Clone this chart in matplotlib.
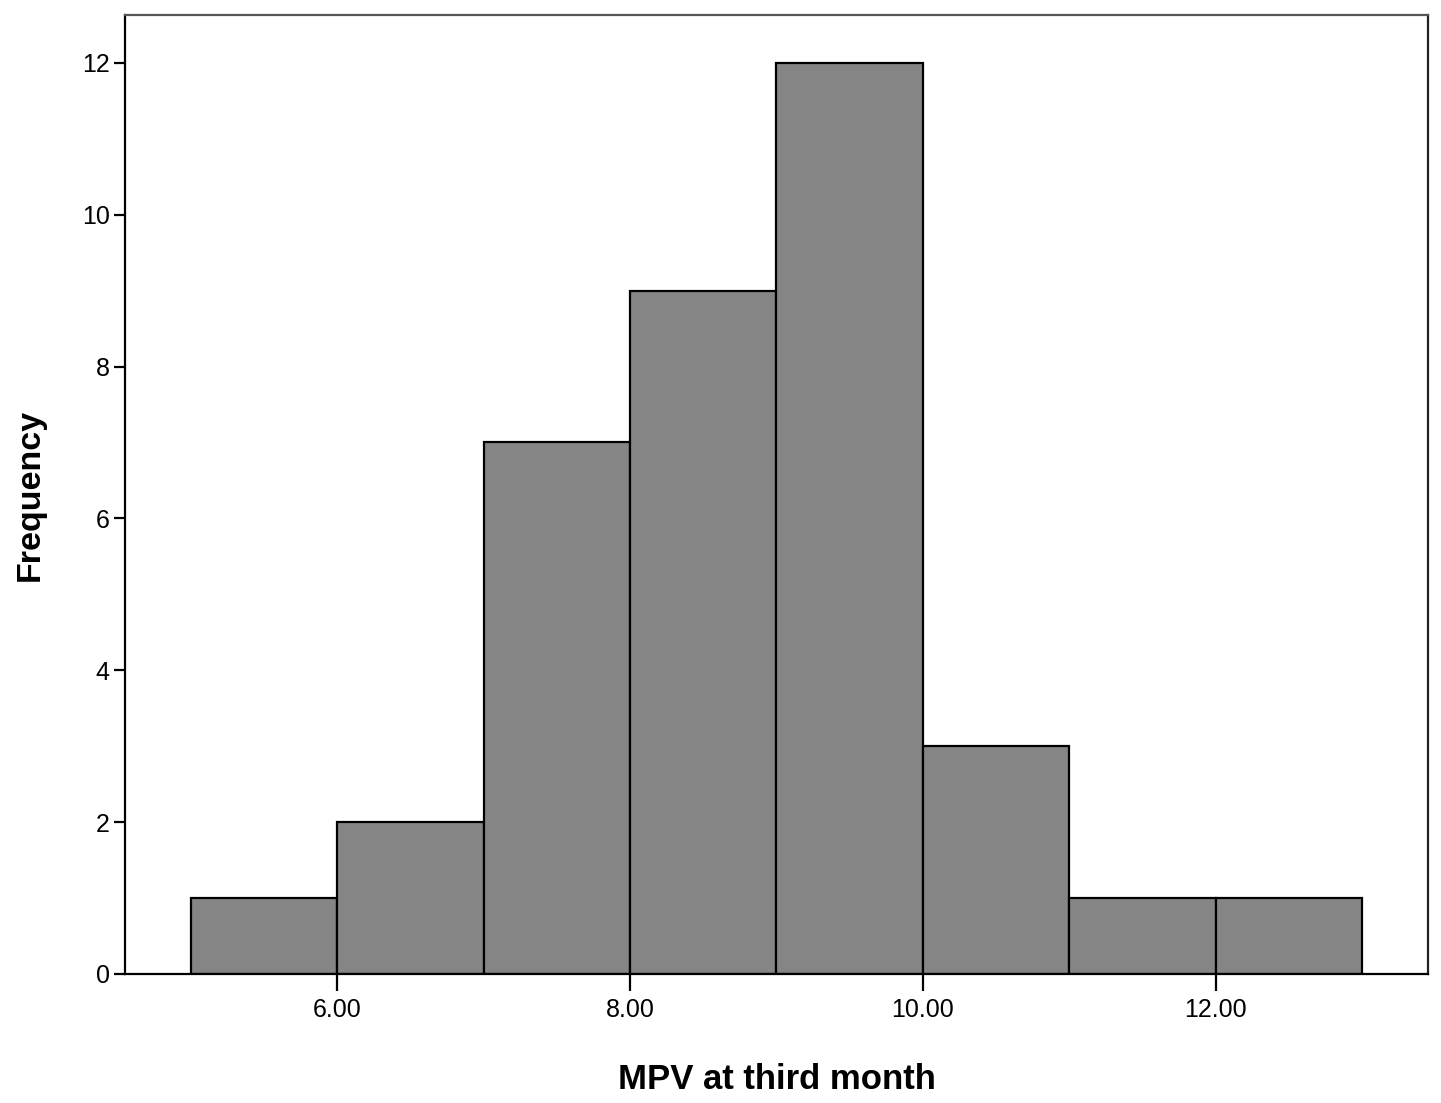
import matplotlib
matplotlib.use('Agg')
import matplotlib.pyplot as plt
import numpy as np

# histogram bins (MPV) and counts
bin_edges = [5, 6, 7, 8, 9, 10, 11, 12, 13]
counts = [1, 2, 7, 9, 12, 3, 1, 1]
x_ticks = [6, 8, 10, 12]
x_tick_labels = ['6.00', '8.00', '10.00', '12.00']
y_ticks = [0, 2, 4, 6, 8, 10, 12]

plt.rcParams['font.family'] = ['Liberation Sans', 'DejaVu Sans']

fig = plt.figure(figsize=(14.41, 11.03), dpi=100)
ax = fig.add_axes([0.0867, 0.117, 0.991 - 0.0867, 0.9864 - 0.117])

edges = np.array(bin_edges)
ax.bar(edges[:-1], counts, width=np.diff(edges), align='edge',
       color='#858585', edgecolor='black', linewidth=1.6)

ax.set_xlim(4.55, 13.45)
ax.set_ylim(0, 12.63)
ax.set_xticks(x_ticks)
ax.set_xticklabels(x_tick_labels)
ax.set_yticks(y_ticks)

ax.tick_params(axis='x', direction='out', length=12, width=1.6, labelsize=18, pad=5)
ax.tick_params(axis='y', direction='out', length=8, width=1.6, labelsize=18, pad=3)

for side in ['left', 'bottom', 'right']:
    ax.spines[side].set_linewidth(1.6)
ax.spines['top'].set_linewidth(1.6)
ax.spines['top'].set_color('#555555')
ax.spines['right'].set_color('#222222')

ax.set_xlabel('MPV at third month', fontsize=25, fontweight='bold', labelpad=30)
ax.set_ylabel('Frequency', fontsize=24.5, fontweight='bold', labelpad=26)

fig.savefig('out.png', dpi=100)
